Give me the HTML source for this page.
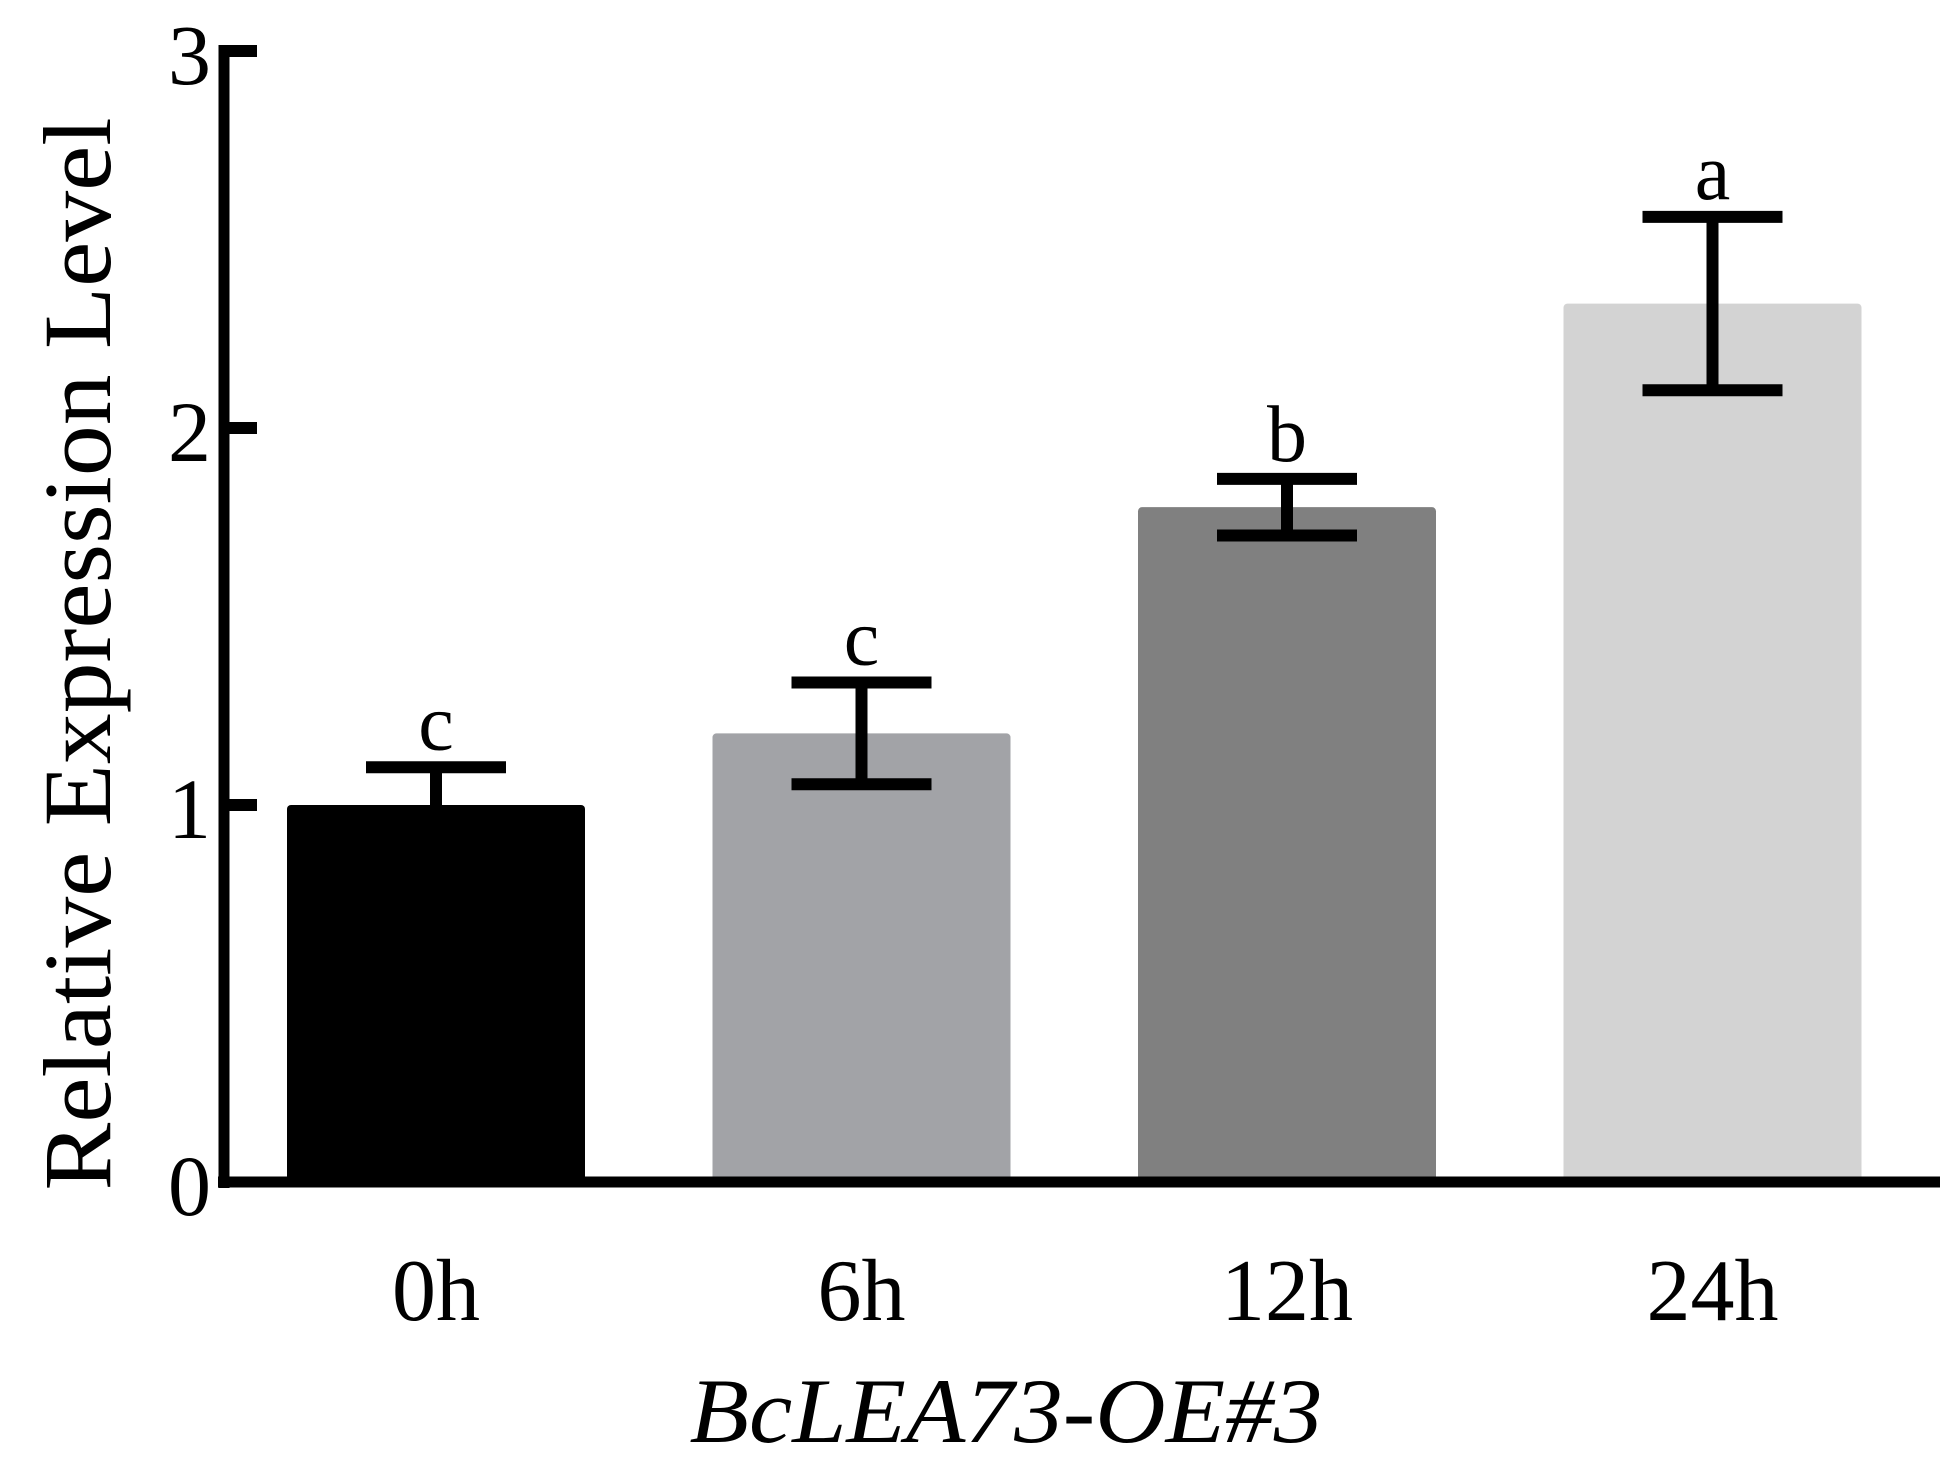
<!DOCTYPE html>
<html><head><meta charset="utf-8"><style>
html,body{margin:0;padding:0;background:#fff;}
svg{display:block;}
text{font-family:"Liberation Serif",serif;fill:#000;}
</style></head><body>
<svg id="chart" width="1947" height="1463" viewBox="0 0 1947 1463" xmlns="http://www.w3.org/2000/svg">
<g id="bars"></g>
<g id="axes"></g>
</svg>
<script>
const categories = ["0h","6h","12h","24h"];
const means = [1.0, 1.19, 1.79, 2.33];
const errors = [0.1, 0.135, 0.075, 0.23];
const letters = ["c","c","b","a"];
const colors = ["#000000","#a2a3a7","#808080","#d3d3d3"];
const yTicks = [0,1,2,3];

const NS = "http://www.w3.org/2000/svg";
const svg = document.getElementById('chart');
const gBars = document.getElementById('bars');
const gAxes = document.getElementById('axes');
const y0 = 1182, yUnit = 377;
function yScale(v){ return y0 - v*yUnit; }
const xStart = 287, step = 425.5, barW = 298;
function xScale(i){ return xStart + i*step; }
function mk(tag, attrs, parent){ const e=document.createElementNS(NS,tag); for(const k in attrs) e.setAttribute(k,attrs[k]); parent.appendChild(e); return e; }

categories.forEach((c,i)=>{
  const x = xScale(i), yt = yScale(means[i]);
  const bar = mk('rect',{x:x,y:yt,width:barW,height:y0-yt,fill:colors[i],rx:4},gBars);
  
  
  const cx = x + barW/2;
  const eg = mk('g',{stroke:'#000','stroke-width':12},gBars);
  
  
  const yh = yScale(means[i]+errors[i]), yl = yScale(means[i]-errors[i]);
  mk('line',{x1:cx,x2:cx,y1:yh,y2:yl},eg);
  mk('line',{x1:cx-70,x2:cx+70,y1:yh,y2:yh},eg);
  mk('line',{x1:cx-70,x2:cx+70,y1:yl,y2:yl},eg);
  const lt = mk('text',{x:cx,y:yh-18,'text-anchor':'middle','font-size':80},gBars);
  lt.textContent = letters[i];
  
  
  const xl = mk('text',{x:cx,y:1320,'text-anchor':'middle','font-size':88},gAxes);
  xl.textContent = c;
  
  
});

const ya = mk('line',{x1:224,x2:224,y1:45,y2:1188,stroke:'#000','stroke-width':11},gAxes);


const xa = mk('line',{x1:218,x2:1940,y1:1182,y2:1182,stroke:'#000','stroke-width':11},gAxes);



yTicks.forEach(t=>{
  const y = yScale(t);
  if(t>0){ mk('line',{x1:219,x2:257,y1:y,y2:y,stroke:'#000','stroke-width':12},gAxes); }
  const tl = mk('text',{x:211,y:y+33,'text-anchor':'end','font-size':86},gAxes);
  tl.textContent = t;
  
  
});

const yt = mk('text',{x:0,y:0,'text-anchor':'middle','font-size':96,textLength:1073,lengthAdjust:'spacingAndGlyphs',transform:'translate(110,654) rotate(-90)'},gAxes);
yt.textContent = 'Relative Expression Level';


const xt = mk('text',{x:1006,y:1442,'text-anchor':'middle','font-size':92,'font-style':'italic',textLength:633,lengthAdjust:'spacingAndGlyphs'},gAxes);
xt.textContent = 'BcLEA73-OE#3';


</script>
</body></html>
